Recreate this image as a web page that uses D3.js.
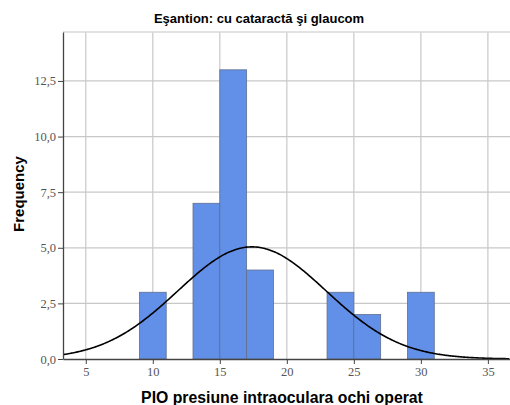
<!DOCTYPE html>
<html>
<head>
<meta charset="utf-8">
<script src="https://cdn.jsdelivr.net/npm/d3@7"></script>
<style>
  body { margin: 0; background: #fff; }
  svg { display: block; }
</style>
</head>
<body>
<div id="chart"></div>
<script>
// histogram bins (lower edge, upper edge) and counts
const binStart = [9, 13, 15, 17, 23, 25, 29];
const binEnd = [11, 15, 17, 19, 25, 27, 31];
const counts = [3, 7, 13, 4, 3, 2, 3];
const xTicks = [5, 10, 15, 20, 25, 30, 35];
const yTicks = [0, 2.5, 5, 7.5, 10, 12.5];
// normal curve parameters
const curveMean = 17.4;
const curveSd = 5.54;
const binWidth = 2;

const width = 510, height = 405;
const margin = { top: 32, right: 0, bottom: 46, left: 63 };

const svg = d3.select('#chart').append('svg')
  .attr('width', width)
  .attr('height', height);

const x = d3.scaleLinear().domain([3.3, 36.65]).range([margin.left, width - margin.right]);
const y = d3.scaleLinear().domain([0, 14.7]).range([height - margin.bottom, margin.top]);

const fmt = d3.format('.1f');
const comma = v => fmt(v).replace('.', ',');

// grid
svg.append('g')
  .selectAll('line')
  .data(xTicks)
  .join('line')
  .attr('x1', d => x(d)).attr('x2', d => x(d))
  .attr('y1', y(0)).attr('y2', margin.top)
  .attr('stroke', '#c8c8c8').attr('stroke-width', 1.2);

svg.append('g')
  .selectAll('line')
  .data(yTicks.slice(1))
  .join('line')
  .attr('x1', margin.left).attr('x2', width)
  .attr('y1', d => y(d)).attr('y2', d => y(d))
  .attr('stroke', '#c8c8c8').attr('stroke-width', 1.2);

// top frame
svg.append('line')
  .attr('x1', margin.left).attr('x2', width)
  .attr('y1', margin.top).attr('y2', margin.top)
  .attr('stroke', '#d8d8d8').attr('stroke-width', 1.5);

// bars
svg.append('g')
  .selectAll('rect')
  .data(counts)
  .join('rect')
  .attr('x', (d, i) => x(binStart[i]))
  .attr('width', (d, i) => x(binEnd[i]) - x(binStart[i]))
  .attr('y', d => y(d))
  .attr('height', d => y(0) - y(d))
  .attr('fill', '#6290e8')
  .attr('stroke', '#5f6f8f')
  .attr('stroke-width', 0.8);

// normal curve
const total = d3.sum(counts);
const peak = total * binWidth / (curveSd * Math.sqrt(2 * Math.PI));
const xs = d3.range(3.3, 36.66, 0.1);
const line = d3.line()
  .x(d => x(d))
  .y(d => y(peak * Math.exp(-((d - curveMean) ** 2) / (2 * curveSd * curveSd))))
  .curve(d3.curveBasis);
svg.append('path')
  .datum(xs)
  .attr('d', line)
  .attr('fill', 'none')
  .attr('stroke', '#000')
  .attr('stroke-width', 1.6);

// axes
const xAxis = svg.append('g')
  .attr('transform', `translate(0,${y(0)})`)
  .call(d3.axisBottom(x).tickValues(xTicks).tickSize(5).tickSizeOuter(0).tickPadding(3));
const yAxis = svg.append('g')
  .attr('transform', `translate(${margin.left},0)`)
  .call(d3.axisLeft(y).tickValues(yTicks).tickFormat(comma).tickSize(5).tickSizeOuter(0).tickPadding(2));

[xAxis, yAxis].forEach(a => {
  a.select('.domain').attr('stroke', '#444').attr('stroke-width', 1.3);
  a.selectAll('.tick line').attr('stroke', '#444');
  a.selectAll('.tick text')
    .style('font-family', '"Liberation Serif", "DejaVu Serif", serif')
    .style('font-size', '12.5px')
    .style('fill', '#555');
});

// titles
svg.append('text')
  .attr('x', 259).attr('y', 23)
  .attr('text-anchor', 'middle')
  .style('font-family', 'Liberation Sans, Arial, sans-serif')
  .style('font-weight', 'bold')
  .style('font-size', '13px')
  .text('Eşantion: cu cataractă şi glaucom');

svg.append('text')
  .attr('x', 282).attr('y', 403)
  .attr('text-anchor', 'middle')
  .style('font-family', 'Liberation Sans, Arial, sans-serif')
  .style('font-weight', 'bold')
  .style('font-size', '15.8px')
  .text('PIO presiune intraoculara ochi operat');

svg.append('text')
  .attr('transform', 'translate(24,194) rotate(-90)')
  .attr('text-anchor', 'middle')
  .style('font-family', 'Liberation Sans, Arial, sans-serif')
  .style('font-weight', 'bold')
  .style('font-size', '15px')
  .text('Frequency');
</script>
</body>
</html>
